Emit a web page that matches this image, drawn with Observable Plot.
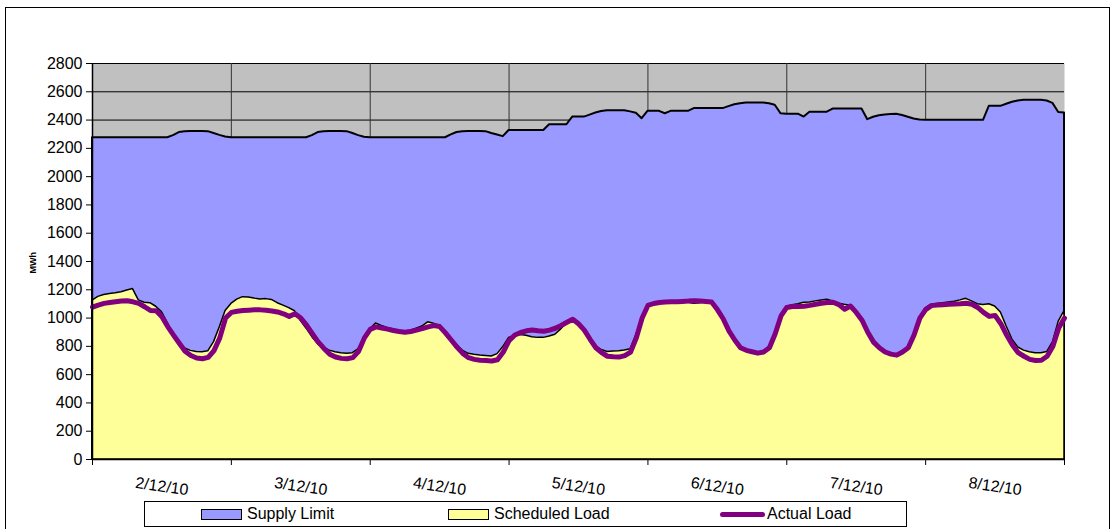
<!DOCTYPE html>
<html>
<head>
<meta charset="utf-8">
<script src="https://cdn.jsdelivr.net/npm/d3@7"></script>
<script src="https://cdn.jsdelivr.net/npm/@observablehq/plot@0.6"></script>
<style>
  html, body { margin: 0; padding: 0; background: #fff; }
  #wrap { position: relative; width: 1115px; height: 529px; overflow: hidden; font-family: "Liberation Sans", Arial, sans-serif; }
  #chart { position: absolute; left: 0; top: 0; }
  #border { position: absolute; left: 5px; top: 7px; width: 1103px; height: 540px; border: 1px solid #000; pointer-events: none; }
  #legend { position: absolute; left: 144px; top: 501px; width: 761px; height: 24px; border: 1px solid #000; background: #fff; font-size: 16px; }
  .item { position: absolute; top: 0; height: 24px; line-height: 24px; white-space: nowrap; }
  .sw { position: absolute; top: 7px; width: 39px; height: 9px; border: 1px solid #000; }
  .ln { position: absolute; top: 10px; width: 45px; height: 5px; border-radius: 3px; background: #800080; }
</style>
</head>
<body>
<div id="wrap">
  <div id="chart"></div>
  <div id="legend"></div>
  <div id="border"></div>
</div>
<script>
// ---- data (hourly, 2/12/10 00:00 .. 9/12/10 00:00) ----
const dayLabels = ["2/12/10", "3/12/10", "4/12/10", "5/12/10", "6/12/10", "7/12/10", "8/12/10"];
const dayTicks = [0, 24, 48, 72, 96, 120, 144, 168];
const yTicks = [0, 200, 400, 600, 800, 1000, 1200, 1400, 1600, 1800, 2000, 2200, 2400, 2600, 2800];
const seriesNames = ["Supply Limit", "Scheduled Load", "Actual Load"];

const supplyLimit = [
  2275,2275,2275,2275,2275,2275,2275,2275,2275,2275,2275,2275,2275,2275,2290,2312,2318,2320,2320,2320,2318,2305,2292,2280,
  2275,2275,2275,2275,2275,2275,2275,2275,2275,2275,2275,2275,2275,2275,2290,2312,2318,2320,2320,2320,2318,2305,2290,2278,
  2275,2275,2275,2275,2275,2275,2275,2275,2275,2275,2275,2275,2275,2275,2295,2312,2318,2320,2320,2320,2318,2305,2294,2283,
  2326,2326,2326,2326,2326,2326,2326,2367,2367,2367,2367,2421,2421,2421,2435,2450,2460,2466,2466,2466,2466,2458,2448,2410,
  2462,2462,2462,2445,2462,2462,2462,2462,2481,2481,2481,2481,2481,2481,2495,2508,2515,2521,2521,2521,2521,2515,2505,2445,
  2442,2442,2442,2421,2456,2456,2456,2456,2478,2478,2478,2478,2478,2478,2403,2420,2431,2436,2440,2441,2432,2420,2408,2400,
  2398,2398,2398,2398,2398,2398,2398,2398,2398,2398,2398,2497,2497,2497,2512,2526,2535,2540,2540,2540,2540,2535,2518,2454,
  2450
];

const scheduledLoad = [
  1124,1150,1163,1170,1175,1183,1195,1205,1125,1108,1105,1080,1042,965,870,815,785,768,760,759,765,830,935,1050,
  1100,1130,1148,1145,1138,1132,1134,1128,1105,1088,1070,1048,980,925,865,815,790,770,759,752,748,752,780,860,
  920,962,945,930,920,910,905,910,925,940,970,960,945,900,860,810,770,747,740,735,732,728,745,795,
  860,875,880,875,865,860,860,870,882,920,965,990,965,920,855,800,775,760,763,766,770,780,880,1005,
  1095,1105,1110,1112,1108,1110,1112,1108,1102,1104,1112,1108,1055,990,905,840,790,772,762,755,765,795,895,1020,
  1080,1090,1098,1108,1110,1118,1125,1130,1118,1102,1094,1088,1045,988,900,832,792,762,748,742,762,795,885,1003,
  1068,1095,1100,1105,1110,1115,1125,1136,1118,1098,1092,1098,1082,1040,940,848,792,770,758,752,752,760,830,975,
  1050
];

const actualLoad = [
  1077,1092,1104,1110,1115,1120,1122,1115,1104,1080,1054,1052,1010,940,880,822,765,735,718,712,722,770,860,1000,
  1040,1048,1053,1056,1058,1058,1055,1050,1043,1030,1012,1030,1000,950,890,832,785,745,725,715,712,720,765,860,
  920,938,930,922,912,905,900,905,915,925,938,947,940,895,845,795,750,720,708,702,700,697,705,760,
  840,880,898,910,915,910,907,915,928,948,970,992,960,915,850,790,755,730,726,724,735,760,860,1000,
  1089,1103,1110,1113,1115,1116,1118,1120,1123,1120,1117,1113,1060,995,910,845,790,772,762,752,760,790,889,1015,
  1075,1082,1082,1083,1090,1098,1105,1110,1112,1095,1062,1085,1040,985,900,830,790,760,745,738,760,790,880,1000,
  1060,1088,1092,1095,1098,1100,1102,1105,1098,1075,1040,1012,1018,960,880,810,755,730,708,700,702,730,800,930,
  1000
];

const colors = { supply: "#9999FF", scheduled: "#FFFF99", actual: "#800080" };

const rows = supplyLimit.map((v, i) => ({ h: i, supply: v, scheduled: scheduledLoad[i], actual: actualLoad[i] }));
const labelRows = dayLabels.map((t, i) => ({ label: t, h: (dayTicks[i] + dayTicks[i + 1]) / 2 }));

const chart = Plot.plot({
  width: 1115,
  height: 500,
  marginLeft: 92,
  marginRight: 51,
  marginTop: 63,
  marginBottom: 41,
  style: { fontFamily: "'Liberation Sans', Arial, sans-serif", fontSize: "16px", background: "transparent", color: "#000", overflow: "visible" },
  x: { domain: [0, 168] },
  y: { domain: [0, 2800] },
  marks: [
    Plot.frame({ fill: "#C0C0C0", stroke: "none" }),
    Plot.ruleY(yTicks, { stroke: "#000", strokeWidth: 1 }),
    Plot.ruleX(dayTicks.slice(1, -1), { stroke: "#333", strokeWidth: 1 }),
    Plot.areaY(rows, { x: "h", y: "supply", fill: colors.supply, stroke: "#000", strokeWidth: 2, strokeLinejoin: "round" }),
    Plot.areaY(rows, { x: "h", y: "scheduled", fill: colors.scheduled, stroke: "#000", strokeWidth: 1.5, strokeLinejoin: "round" }),
    Plot.lineY(rows, { x: "h", y: "actual", stroke: colors.actual, strokeWidth: 5, strokeLinejoin: "round", strokeLinecap: "round" }),
    Plot.ruleX([0], { stroke: "#000", strokeWidth: 1.5 }),
    Plot.ruleY([0], { stroke: "#000", strokeWidth: 1.5 }),
    Plot.axisY({ ticks: yTicks, tickSize: 6, tickPadding: 4, fontSize: 16, tickFormat: d => String(d), label: null, stroke: "#000" }),
    Plot.axisX({ ticks: dayTicks, tickSize: 6, tickFormat: () => "", label: null, stroke: "#000" }),
    Plot.text(labelRows, { x: "h", y: 0, text: "label", dy: 27, rotate: 8, fontSize: 16, fill: "#000" }),
    Plot.text(["MWh"], { frameAnchor: "left", dx: -59, dy: 12, rotate: -90, fontSize: 9, fontWeight: "bold", fill: "#000" })
  ]
});
document.getElementById("chart").appendChild(chart);

// legend
const legend = document.getElementById("legend");
const items = [
  { name: seriesNames[0], kind: "sw", color: colors.supply, sx: 56, tx: 102 },
  { name: seriesNames[1], kind: "sw", color: colors.scheduled, sx: 303, tx: 349 },
  { name: seriesNames[2], kind: "ln", color: colors.actual, sx: 575, tx: 622 }
];
for (const it of items) {
  const s = document.createElement("div");
  s.className = it.kind;
  s.style.left = it.sx + "px";
  s.style.background = it.color;
  legend.appendChild(s);
  const t = document.createElement("div");
  t.className = "item";
  t.style.left = it.tx + "px";
  t.textContent = it.name;
  legend.appendChild(t);
}
</script>
</body>
</html>
